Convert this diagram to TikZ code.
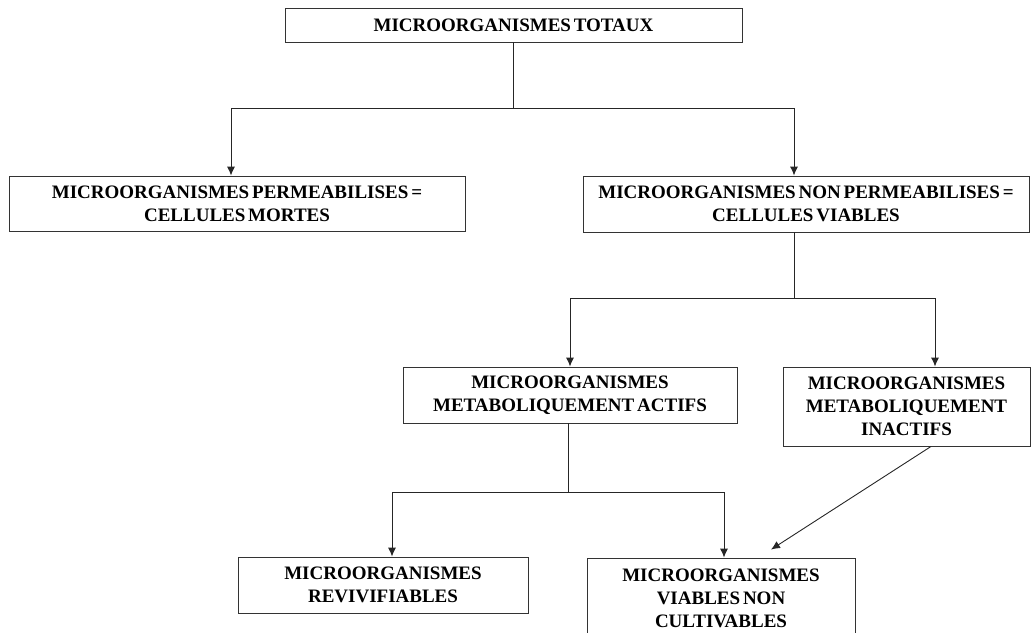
\documentclass[tikz,border=0pt]{standalone}
\usepackage{fontspec}
\setmainfont{Liberation Serif}[WordSpace=0.6]
\usetikzlibrary{arrows.meta}
\begin{document}
\begin{tikzpicture}[x=1pt,y=-1pt,
  box/.style={draw=black!80, line width=0.9pt, rectangle, inner sep=0pt,
    align=center, font=\fontsize{19}{23}\selectfont\bfseries},
  link/.style={draw=black!85, line width=0.9pt},
  arr/.style={link, -{Latex[length=9pt,width=8pt]}}]
\useasboundingbox (0,0) rectangle (1032,632);

% boxes (centre, size)
\node[box, minimum width=457pt, minimum height=34pt] (tot) at (513.5,25) {MICROORGANISMES TOTAUX};
\node[box, minimum width=456pt, minimum height=55pt] (morts) at (237,203.5)
  {MICROORGANISMES PERMEABILISES =\\CELLULES MORTES};
\node[box, minimum width=446pt, minimum height=56pt] (viab) at (806,204)
  {MICROORGANISMES NON PERMEABILISES =\\CELLULES VIABLES};
\node[box, minimum width=334pt, minimum height=56pt] (act) at (570,395)
  {MICROORGANISMES\\METABOLIQUEMENT ACTIFS};
\node[box, minimum width=247pt, minimum height=79pt] (inact) at (906.5,406.5)
  {MICROORGANISMES\\METABOLIQUEMENT\\INACTIFS};
\node[box, minimum width=290pt, minimum height=56pt] (reviv) at (383,585)
  {MICROORGANISMES\\REVIVIFIABLES};
\node[box, minimum width=268pt, minimum height=80pt] (vnc) at (721,598)
  {MICROORGANISMES\\VIABLES NON\\CULTIVABLES};

% first split
\coordinate (j1) at ([yshift=-66pt]tot.south);
\draw[link] (tot.south) -- (j1);
\draw[arr] (j1) -| ([xshift=-6pt]morts.north);
\draw[arr] (j1) -| ([xshift=-12pt]viab.north);

% second split
\coordinate (j2) at ([xshift=-12pt,yshift=-66pt]viab.south);
\draw[link] ([xshift=-12pt]viab.south) -- (j2);
\draw[arr] (j2) -| (act.north);
\draw[arr] (j2) -| ([xshift=28.5pt]inact.north);

% third split
\coordinate (j3) at ([xshift=-2pt,yshift=-69pt]act.south);
\draw[link] ([xshift=-2pt]act.south) -- (j3);
\draw[arr] (j3) -| ([xshift=9pt]reviv.north);
\draw[arr] (j3) -| ([xshift=3pt]vnc.north);

% inactive cells also feed the non-cultivable group
\coordinate (tip) at ([xshift=50pt,yshift=8pt]vnc.north);
\draw[arr] ([xshift=24.5pt]inact.south) -- (tip);
\end{tikzpicture}
\end{document}
